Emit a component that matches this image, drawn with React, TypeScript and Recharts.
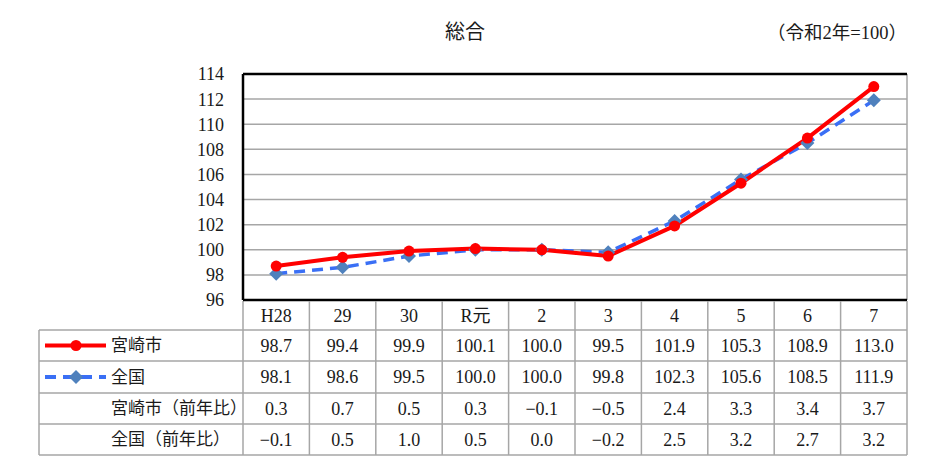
import { LineChart, Line, XAxis, YAxis, CartesianGrid, ReferenceLine, Customized } from "recharts"

const years = ["H28", "29", "30", "R元", "2", "3", "4", "5", "6", "7"]
const miyazaki = [98.7, 99.4, 99.9, 100.1, 100.0, 99.5, 101.9, 105.3, 108.9, 113.0]
const national = [98.1, 98.6, 99.5, 100.0, 100.0, 99.8, 102.3, 105.6, 108.5, 111.9]
const miyazakiYoY = [0.3, 0.7, 0.5, 0.3, -0.1, -0.5, 2.4, 3.3, 3.4, 3.7]
const nationalYoY = [-0.1, 0.5, 1.0, 0.5, 0.0, -0.2, 2.5, 3.2, 2.7, 3.2]
const yTicks = [96, 98, 100, 102, 104, 106, 108, 110, 112, 114]

const data = years.map((year, i) => ({ year, miyazaki: miyazaki[i], national: national[i] }))

const FONT = "Liberation Serif, DejaVu Serif, Noto Sans CJK JP"
const GRID = "#a6a6a6"
const PLOT_LEFT = 243
const PLOT_RIGHT = 907
const TABLE_LEFT = 39
const ROWS = [301, 330, 361, 393, 424, 455]
const COL_W = (PLOT_RIGHT - PLOT_LEFT) / years.length
const TXT = { fontFamily: FONT, fontSize: 17, fill: "#1a1a1a" }
const NUM = { ...TXT, fontSize: 18 }

const fmt = (v: number) => (v < 0 ? "−" + Math.abs(v).toFixed(1) : v.toFixed(1))

// header + value cells per column, positioned by the axis
function TableTick(props: any) {
  const { x, index } = props
  const rowsVals = [miyazaki, national, miyazakiYoY, nationalYoY]
  const mid = (r: number) => (ROWS[r] + ROWS[r + 1]) / 2
  return (
    <g>
      <line x1={x + COL_W / 2} x2={x + COL_W / 2} y1={ROWS[0]} y2={ROWS[5]} stroke={GRID} strokeWidth={1.5} />
      <text x={x} y={mid(0)} textAnchor="middle" dominantBaseline="central" style={NUM}>{years[index]}</text>
      {rowsVals.map((arr, r) => (
        <text key={r} x={x} y={mid(r + 1)} textAnchor="middle" dominantBaseline="central" style={NUM}>
          {fmt(arr[index])}
        </text>
      ))}
    </g>
  )
}

function Diamond(props: any) {
  const { cx, cy } = props
  if (cx == null || cy == null) return null
  const s = 7
  return <polygon points={`${cx},${cy - s} ${cx + s},${cy} ${cx},${cy + s} ${cx - s},${cy}`} fill="#4f81bd" />
}

function LeftTable() {
  const mid = (r: number) => (ROWS[r] + ROWS[r + 1]) / 2
  return (
    <g>
      {ROWS.slice(1).map(y => (
        <line key={y} x1={TABLE_LEFT} x2={PLOT_RIGHT} y1={y} y2={y} stroke={GRID} strokeWidth={1.5} />
      ))}
      <line x1={TABLE_LEFT} x2={TABLE_LEFT} y1={ROWS[1]} y2={ROWS[5]} stroke={GRID} strokeWidth={1.5} />
      <line x1={PLOT_LEFT} x2={PLOT_LEFT} y1={ROWS[0]} y2={ROWS[5]} stroke={GRID} strokeWidth={1.5} />
      <line x1={45} x2={106} y1={mid(1)} y2={mid(1)} stroke="#ff0000" strokeWidth={4} />
      <circle cx={76} cy={mid(1)} r={5.5} fill="#ff0000" />
      <line x1={45} x2={106} y1={mid(2)} y2={mid(2)} stroke="#3a6ff5" strokeWidth={4} strokeDasharray="11 7" />
      <Diamond cx={76} cy={mid(2)} />
      <text x={111} y={mid(1)} dominantBaseline="central" style={TXT}>宮崎市</text>
      <text x={111} y={mid(2)} dominantBaseline="central" style={TXT}>全国</text>
      <text x={111} y={mid(3)} dominantBaseline="central" style={TXT}>宮崎市（前年比）</text>
      <text x={111} y={mid(4)} dominantBaseline="central" style={TXT}>全国（前年比）</text>
      <text x={465} y={32} textAnchor="middle" dominantBaseline="central" style={{ ...TXT, fontSize: 20 }}>総合</text>
      <text x={907} y={33} textAnchor="end" dominantBaseline="central" style={{ ...TXT, fontSize: 18.5 }}>（令和2年=100）</text>
    </g>
  )
}

export default function App() {
  return (
    <div style={{ width: 932, height: 467, background: "#fff", fontFamily: FONT }}>
      <style>{`body{margin:0}`}</style>
      <LineChart
        width={932}
        height={467}
        data={data}
        style={{ fontFamily: FONT }}
        margin={{ top: 74, right: 932 - PLOT_RIGHT, bottom: 0, left: PLOT_LEFT - 60 }}
      >
        <CartesianGrid stroke={GRID} strokeWidth={1.5} vertical verticalPoints={[PLOT_RIGHT]} />
        <XAxis
          dataKey="year"
          height={167}
          padding={{ left: COL_W / 2, right: COL_W / 2 }}
          axisLine={{ stroke: "#000", strokeWidth: 2.5 }}
          tickLine={false}
          tick={<TableTick />}
          interval={0}
        />
        <YAxis
          width={60}
          domain={[96, 114]}
          ticks={yTicks}
          interval={0}
          axisLine={{ stroke: "#000", strokeWidth: 2.5 }}
          tickLine={false}
          tickSize={0}
          tickMargin={19}
          tick={{ style: NUM, fill: "#1a1a1a", fontSize: 18 }}
        />
        <ReferenceLine y={114} stroke="#000" strokeWidth={2.5} />
        <Customized component={<LeftTable />} />
        <Line
          dataKey="national"
          stroke="#3a6ff5"
          strokeWidth={3.5}
          strokeDasharray="11 7"
          dot={<Diamond />}
          isAnimationActive={false}
        />
        <Line
          dataKey="miyazaki"
          stroke="#ff0000"
          strokeWidth={4}
          dot={{ r: 5.5, fill: "#ff0000", stroke: "none" }}
          isAnimationActive={false}
        />
      </LineChart>
    </div>
  )
}
